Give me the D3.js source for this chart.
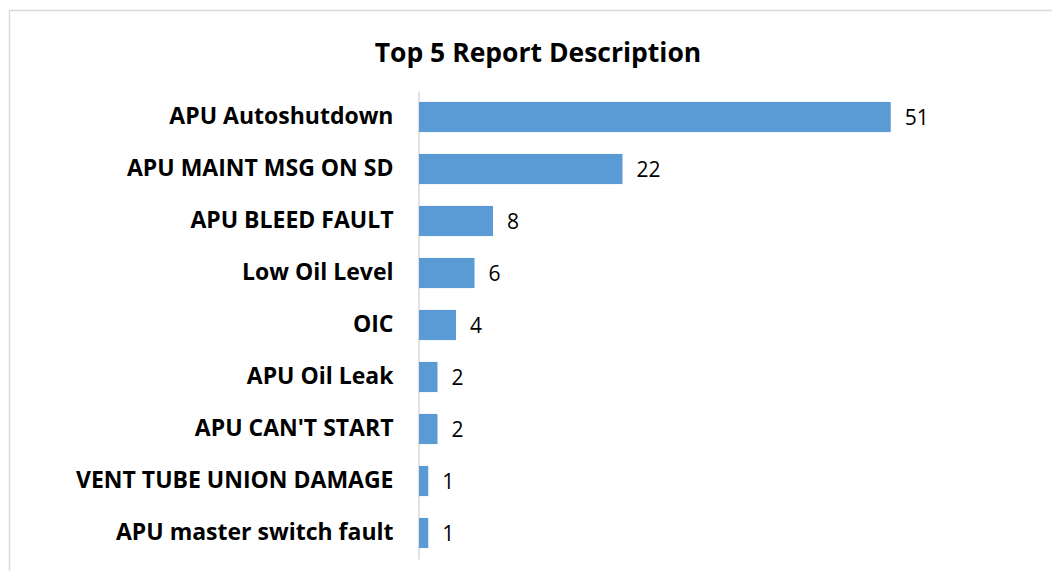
<!DOCTYPE html>
<html>
<head>
<meta charset="utf-8">
<script src="https://cdn.jsdelivr.net/npm/d3@7"></script>
<style>
  body { margin: 0; background: #fff; }
  svg { display: block; }
</style>
</head>
<body>
<svg></svg>
<script>
// report descriptions, top to bottom
var categories = [
  "APU Autoshutdown",
  "APU MAINT MSG ON SD",
  "APU BLEED FAULT",
  "Low Oil Level",
  "OIC",
  "APU Oil Leak",
  "APU CAN'T START",
  "VENT TUBE UNION DAMAGE",
  "APU master switch fault"
];
var counts = [51, 22, 8, 6, 4, 2, 2, 1, 1];
var title = "Top 5 Report Description";

const W = 1052, H = 571;
const font = "'Open Sans', Lato, sans-serif";

var svg = d3.select("svg")
    .attr("width", W)
    .attr("height", H);

// chart frame (only top and left visible in crop)
svg.append("path")
    .attr("d", "M9.5," + H + "V10.5H" + W)
    .attr("fill", "none")
    .attr("stroke", "#d9d9d9")
    .attr("stroke-width", 1.5);

svg.append("text")
    .attr("x", 538)
    .attr("y", 62)
    .attr("text-anchor", "middle")
    .style("font-family", font)
    .style("font-weight", "bold")
    .style("font-size", "26.5px")
    .attr("fill", "#000")
    .text(title);

var x = d3.scaleLinear().domain([0, 60]).range([419, 974]);
var y = d3.scaleBand().domain(categories).range([91, 559])
    .paddingInner(0.42).paddingOuter(0.21);

// category axis
var yAxis = d3.axisLeft(y).tickSize(0).tickPadding(25);
var yG = svg.append("g")
    .attr("transform", "translate(418.5,0)")
    .call(yAxis);
yG.select(".domain").attr("stroke", "#d9d9d9").attr("stroke-width", 1.5);
yG.selectAll("text")
    .style("font-family", font)
    .style("font-weight", "bold")
    .style("font-size", "23px")
    .attr("fill", "#000");

var data = categories.map((c, i) => ({cat: c, n: counts[i]}));

svg.selectAll("rect.bar").data(data)
  .enter().append("rect")
    .attr("class", "bar")
    .attr("x", x(0))
    .attr("y", d => y(d.cat))
    .attr("width", d => x(d.n) - x(0))
    .attr("height", y.bandwidth())
    .attr("fill", "#5b9bd5");

svg.selectAll("text.val").data(data)
  .enter().append("text")
    .attr("class", "val")
    .attr("x", d => x(d.n) + 14)
    .attr("y", d => y(d.cat) + y.bandwidth() / 2)
    .attr("dy", "0.36em")
    .style("font-family", font)
    .style("font-size", "21px")
    .attr("fill", "#000")
    .text(d => d.n);
</script>
</body>
</html>
